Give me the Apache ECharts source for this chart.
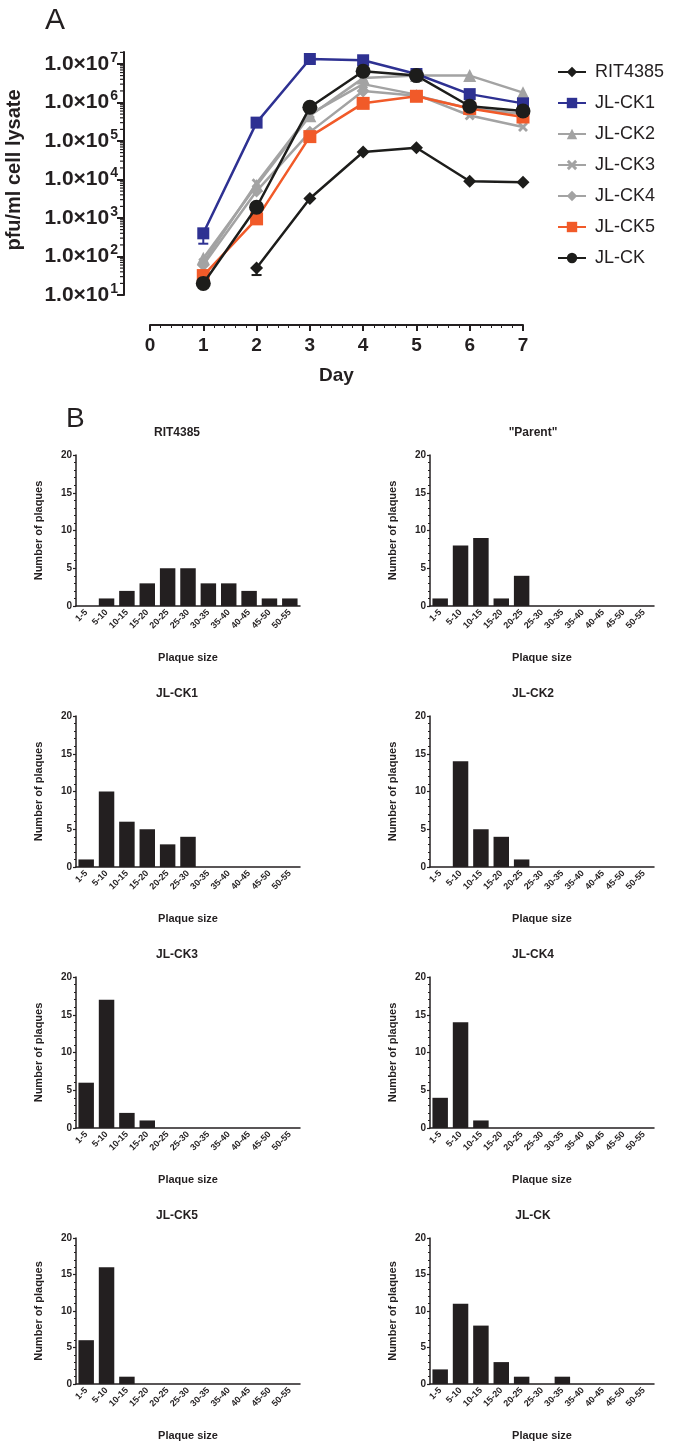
<!DOCTYPE html>
<html><head><meta charset="utf-8">
<script src="https://cdn.jsdelivr.net/npm/echarts@6/dist/echarts.min.js"></script>
<style>html,body{margin:0;padding:0;background:#fff}#c{width:678px;height:1442px}</style>
</head><body><div id="c"></div>
<script>
// ---------- Panel A data (pfu/ml cell lysate by day) ----------
const days = [1, 2, 3, 4, 5, 6, 7];
const rit4385 = [null, 50, 3200, 52000, 67000, 9000, 8500];
const jlck1 = [400, 300000, 13500000, 12500000, 5500000, 1650000, 950000];
const jlck2 = [90, 7000, 450000, 4300000, 5000000, 5000000, 1800000];
const jlck3 = [70, 8000, 500000, 3000000, 1600000, 460000, 230000];
const jlck4 = [60, 5000, 170000, 2000000, 1500000, 700000, 500000];
const jlck5 = [32, 950, 130000, 950000, 1450000, 700000, 420000];
const jlck = [20, 1900, 750000, 6500000, 5000000, 800000, 600000];
// error bars: [day, low, high]
const errJLCK1 = [[1, 215, 400]];
const errRIT = [[2, 33, 50]];
const logMinorTicks = [];
for (let e = 1; e <= 7; e++) for (let k = 2; k <= 9; k++) { const v = k * Math.pow(10, e); if (v <= 2.05e7) logMinorTicks.push(v); }

// ---------- Panel B data (number of plaques by plaque size) ----------
const sizeBins = ['1-5', '5-10', '10-15', '15-20', '20-25', '25-30', '30-35', '35-40', '40-45', '45-50', '50-55'];
const hRIT4385 = [0, 1, 2, 3, 5, 5, 3, 3, 2, 1, 1];
const hParent = [1, 8, 9, 1, 4, 0, 0, 0, 0, 0, 0];
const hJLCK1 = [1, 10, 6, 5, 3, 4, 0, 0, 0, 0, 0];
const hJLCK2 = [0, 14, 5, 4, 1, 0, 0, 0, 0, 0, 0];
const hJLCK3 = [6, 17, 2, 1, 0, 0, 0, 0, 0, 0, 0];
const hJLCK4 = [4, 14, 1, 0, 0, 0, 0, 0, 0, 0, 0];
const hJLCK5 = [6, 16, 1, 0, 0, 0, 0, 0, 0, 0, 0];
const hJLCK = [2, 11, 8, 3, 1, 0, 1, 0, 0, 0, 0];
const histTitles = ['RIT4385', '"Parent"', 'JL-CK1', 'JL-CK2', 'JL-CK3', 'JL-CK4', 'JL-CK5', 'JL-CK'];
const histData = [hRIT4385, hParent, hJLCK1, hJLCK2, hJLCK3, hJLCK4, hJLCK5, hJLCK];

// ---------- styling ----------
const FONT = '"Liberation Sans", Arial, Helvetica, sans-serif';
const INK = '#231F20';
const BLACK = '#1d1d1b', BLUE = '#2E3192', GRAY = '#A3A3A3', ORANGE = '#F15A29';
const X_PATH = 'path://M2,0 L5,3 L8,0 L10,2 L7,5 L10,8 L8,10 L5,7 L2,10 L0,8 L3,5 L0,2 Z';

const lineDefs = [
  { name: 'RIT4385', data: rit4385, color: BLACK, symbol: 'diamond', size: 13, z: 4 },
  { name: 'JL-CK1', data: jlck1, color: BLUE, symbol: 'rect', size: 12, z: 4 },
  { name: 'JL-CK2', data: jlck2, color: GRAY, symbol: 'triangle', size: 13, z: 2 },
  { name: 'JL-CK3', data: jlck3, color: GRAY, symbol: X_PATH, size: 10, z: 2 },
  { name: 'JL-CK4', data: jlck4, color: GRAY, symbol: 'diamond', size: 13, z: 2 },
  { name: 'JL-CK5', data: jlck5, color: ORANGE, symbol: 'rect', size: 13, z: 3 },
  { name: 'JL-CK', data: jlck, color: BLACK, symbol: 'circle', size: 15, z: 5 }
];

const AX_OFF_Y = 26, AX_OFF_X = 30;
const grids = [{ left: 150, top: 52, width: 373, height: 243 }];
const xAxes = [{
  type: 'value', gridIndex: 0, min: 0, max: 7, interval: 1, offset: AX_OFF_X,
  axisLine: { onZero: false, lineStyle: { color: INK, width: 2 } },
  axisTick: { length: 6, lineStyle: { color: INK, width: 2 } },
  minorTick: { show: true, splitNumber: 5, length: 3, lineStyle: { color: INK, width: 1 } },
  axisLabel: { fontSize: 19, fontWeight: 'bold', color: INK, fontFamily: FONT, margin: 11 },
  splitLine: { show: false },
  name: 'Day', nameLocation: 'middle', nameGap: 41,
  nameTextStyle: { fontSize: 19, fontWeight: 'bold', color: INK, fontFamily: FONT }
}];
const yAxes = [{
  type: 'log', logBase: 10, gridIndex: 0, min: 10, max: 2.05e7, offset: AX_OFF_Y,
  axisLine: { onZero: false, lineStyle: { color: INK, width: 2 } },
  axisTick: { length: 7, lineStyle: { color: INK, width: 2 } },
  splitLine: { show: false },
  axisLabel: {
    margin: 6, color: INK, fontFamily: FONT,
    formatter: v => '{a|1.0×10}{s|' + Math.round(Math.log10(v)) + '}',
    rich: {
      a: { fontSize: 21, fontWeight: 'bold', color: INK, fontFamily: FONT },
      s: { fontSize: 14, fontWeight: 'bold', color: INK, fontFamily: FONT, padding: [0, 0, 12, 1] }
    }
  }
}];

const series = [];
lineDefs.forEach(d => {
  const pts = [];
  days.forEach((day, i) => { if (d.data[i] != null) pts.push([day, d.data[i]]); });
  series.push({
    type: 'line', name: d.name, xAxisIndex: 0, yAxisIndex: 0, data: pts, z: d.z,
    symbol: d.symbol, symbolSize: d.size, color: d.color,
    lineStyle: { color: d.color, width: 2.5 }, itemStyle: { color: d.color },
    animation: false
  });
});
// minor ticks of the log axis
series.push({
  type: 'custom', name: 'minorTicks', xAxisIndex: 0, yAxisIndex: 0, clip: false, silent: true,
  data: logMinorTicks.map(v => [0, v]),
  renderItem: (params, api) => {
    const p = api.coord([0, api.value(1)]);
    const x0 = params.coordSys.x - AX_OFF_Y;
    return { type: 'line', shape: { x1: x0, y1: p[1], x2: x0 - 4, y2: p[1] }, style: { stroke: INK, lineWidth: 1.2 } };
  }, animation: false
});
// error bars
[[errJLCK1, BLUE], [errRIT, BLACK]].forEach(([arr, col]) => {
  series.push({
    type: 'custom', name: 'err', xAxisIndex: 0, yAxisIndex: 0, clip: false, silent: true, z: 6,
    data: arr,
    renderItem: (params, api) => {
      const lo = api.coord([api.value(0), api.value(1)]);
      const hi = api.coord([api.value(0), api.value(2)]);
      return { type: 'group', children: [
        { type: 'line', shape: { x1: lo[0], y1: lo[1], x2: hi[0], y2: hi[1] }, style: { stroke: col, lineWidth: 2 } },
        { type: 'line', shape: { x1: lo[0] - 5, y1: lo[1], x2: lo[0] + 5, y2: lo[1] }, style: { stroke: col, lineWidth: 2 } }
      ] };
    }, animation: false
  });
});

// histograms
const graphics = [
  { type: 'text', left: 45, top: 6, style: { text: 'A', fontSize: 30, fontFamily: FONT, fill: INK } },
  { type: 'text', left: 66, top: 405, style: { text: 'B', fontSize: 28, fontFamily: FONT, fill: INK } },
  { type: 'text', x: 14, y: 170, rotation: Math.PI / 2,
    style: { text: 'pfu/ml cell lysate', fontSize: 20, fontWeight: 'bold', fontFamily: FONT, fill: INK, align: 'center', verticalAlign: 'middle' } }
];
const colLeft = [76, 430], colTitle = [177, 533];
histData.forEach((arr, k) => {
  const r = Math.floor(k / 2), c = k % 2;
  const gi = k + 1;
  const top = 455 + 261 * r;
  grids.push({ left: colLeft[c], top: top, width: 224, height: 151 });
  xAxes.push({
    type: 'category', gridIndex: gi, data: sizeBins,
    axisLine: { lineStyle: { color: INK, width: 1.5 } },
    axisTick: { alignWithLabel: true, length: 3, lineStyle: { color: INK, width: 1.2 } },
    axisLabel: { interval: 0, rotate: 45, fontSize: 9, fontWeight: 'bold', color: INK, fontFamily: FONT, margin: 5 },
    name: 'Plaque size', nameLocation: 'middle', nameGap: 46,
    nameTextStyle: { fontSize: 11, fontWeight: 'bold', color: INK, fontFamily: FONT }
  });
  yAxes.push({
    type: 'value', gridIndex: gi, min: 0, max: 20, interval: 5,
    axisLine: { show: true, onZero: false, lineStyle: { color: INK, width: 1.5 } },
    axisTick: { show: true, length: 3, lineStyle: { color: INK, width: 1.2 } },
    minorTick: { show: true, splitNumber: 5, length: 2, lineStyle: { color: INK, width: 1 } },
    splitLine: { show: false },
    axisLabel: { fontSize: 10, fontWeight: 'bold', color: INK, fontFamily: FONT, margin: 4 },
    name: 'Number of plaques', nameLocation: 'middle', nameGap: 32,
    nameTextStyle: { fontSize: 11, fontWeight: 'bold', color: INK, fontFamily: FONT }
  });
  series.push({
    type: 'bar', name: histTitles[k], xAxisIndex: gi, yAxisIndex: gi, data: arr,
    barCategoryGap: '24%', itemStyle: { color: INK }, animation: false
  });
  graphics.push({ type: 'text', x: colTitle[c], y: top - 22,
    style: { text: histTitles[k], fontSize: 12, fontWeight: 'bold', fontFamily: FONT, fill: INK, align: 'center', verticalAlign: 'middle' } });
});

const chart = echarts.init(document.getElementById('c'), null, { renderer: 'canvas' });
chart.setOption({
  backgroundColor: '#fff',
  animation: false,
  grid: grids, xAxis: xAxes, yAxis: yAxes, series: series, graphic: graphics,
  legend: {
    data: lineDefs.map(d => d.name), orient: 'vertical', left: 552, top: 58,
    itemWidth: 28, itemHeight: 13, itemGap: 13,
    textStyle: { fontSize: 18, color: INK, fontFamily: FONT, padding: [0, 0, 0, 4] }
  }
});
</script></body></html>
